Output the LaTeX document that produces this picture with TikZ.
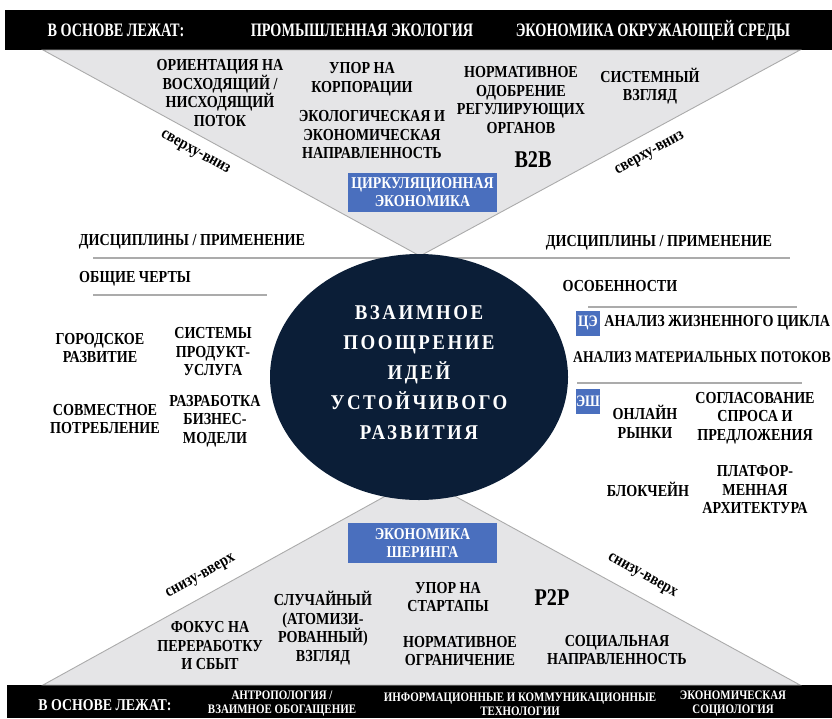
\documentclass[tikz,border=0pt]{standalone}
\usepackage{fontspec}
\setmainfont{Liberation Serif}[FakeStretch=0.84]
\newfontfamily\barfont{Liberation Serif}[FakeStretch=0.75]
\newfontfamily\spacedfont{Liberation Serif}[FakeStretch=0.9, LetterSpace=12]
\usetikzlibrary{shapes, positioning}
\definecolor{navy}{HTML}{0B1E37}
\definecolor{boxblue}{HTML}{4A6FBE}
\definecolor{wedge}{HTML}{E5E5E7}
\definecolor{rulegray}{HTML}{ABABAB}
\tikzstyle{label} = [font=\bfseries\fontsize{16.8}{18.5}\selectfont, align=center, inner sep=0pt]
\tikzstyle{slope} = [font=\bfseries\fontsize{17}{18}\selectfont, inner sep=0pt]
\tikzstyle{bartext} = [font=\barfont\bfseries\fontsize{19}{20}\selectfont, text=white, inner sep=0pt]
\tikzstyle{barsmall} = [font=\bfseries\fontsize{13}{14}\selectfont, text=white, align=center, inner sep=0pt]
\tikzstyle{bluebox} = [rectangle, fill=boxblue, text=white, align=center, minimum width=149pt, minimum height=39pt, inner sep=0pt, font=\bfseries\fontsize{16.5}{18.5}\selectfont]
\tikzstyle{tag} = [rectangle, fill=boxblue, text=white, minimum width=24pt, minimum height=25pt, inner sep=0pt, font=\bfseries\fontsize{16}{16}\selectfont]
\tikzstyle{rule} = [draw=rulegray, line width=1.4pt]
\tikzstyle{edge} = [draw=rulegray, line width=0.9pt]

\begin{document}
\begin{tikzpicture}[x=1pt, y=-1pt, node distance=18pt]
    \useasboundingbox (0,0) rectangle (832,718);

    % bars and wedges
    \fill [black] (5,10) rectangle (832,50);
    \fill [black] (7,685) rectangle (832,718);
    \path [edge, fill=wedge] (43,50) -- (800,50) -- (420,256) -- cycle;
    \path [edge, fill=wedge] (43,685) -- (420,477) -- (800,685) -- cycle;

    % rules
    \path [rule] (93,258) -- (790,258);
    \path [rule] (93,295) -- (267,295);
    \path [rule] (588,307) -- (797,307);
    \path [rule] (577,383) -- (802,383);

    % centre
    \node [ellipse, fill=navy, minimum width=298pt, minimum height=246pt, inner sep=0pt] (core) at (419,377) {};
    \node [text=white, align=center, font=\spacedfont\bfseries\fontsize{21}{30}\selectfont] (core_text) at (419,373)
        {ВЗАИМНОЕ\\ПООЩРЕНИЕ\\ИДЕЙ\\УСТОЙЧИВОГО\\РАЗВИТИЯ};

    % top bar
    \node [bartext] (top_base) at (116,30) {В ОСНОВЕ ЛЕЖАТ:};
    \node [bartext] (top_ecology) at (362,30) {ПРОМЫШЛЕННАЯ ЭКОЛОГИЯ};
    \node [bartext] (top_environment) at (653,30) {ЭКОНОМИКА ОКРУЖАЮЩЕЙ СРЕДЫ};

    % circular economy
    \node [label] (updown) at (220,93) {ОРИЕНТАЦИЯ НА\\ВОСХОДЯЩИЙ /\\НИСХОДЯЩИЙ\\ПОТОК};
    \node [label] (corporations) at (362,79) {УПОР НА\\КОРПОРАЦИИ};
    \node [label] (eco_focus) at (372,135) {ЭКОЛОГИЧЕСКАЯ И\\ЭКОНОМИЧЕСКАЯ\\НАПРАВЛЕННОСТЬ};
    \node [label] (approval) at (521,100) {НОРМАТИВНОЕ\\ОДОБРЕНИЕ\\РЕГУЛИРУЮЩИХ\\ОРГАНОВ};
    \node [label] (system_view) at (650,86) {СИСТЕМНЫЙ\\ВЗГЛЯД};
    \node [label, font=\bfseries\fontsize{24}{24}\selectfont] (b2b) at (533,160) {B2B};
    \node [bluebox] (circular) at (422.5,192) {ЦИРКУЛЯЦИОННАЯ\\ЭКОНОМИКА};
    \node [slope, rotate=-29] (topdown_left) at (195,153) {сверху-вниз};
    \node [slope, rotate=29] (topdown_right) at (650,154) {сверху-вниз};

    % left side
    \node [label] (disc_left) at (192,242) {ДИСЦИПЛИНЫ / ПРИМЕНЕНИЕ};
    \node [label] (common) at (135,279) {ОБЩИЕ ЧЕРТЫ};
    \node [label] (urban) at (100,348) {ГОРОДСКОЕ\\РАЗВИТИЕ};
    \node [label] (pss) at (213,352) {СИСТЕМЫ\\ПРОДУКТ-\\УСЛУГА};
    \node [label] (collab) at (105,419) {СОВМЕСТНОЕ\\ПОТРЕБЛЕНИЕ};
    \node [label] (business) at (215,421) {РАЗРАБОТКА\\БИЗНЕС-\\МОДЕЛИ};

    % right side
    \node [label] (disc_right) at (659,243) {ДИСЦИПЛИНЫ / ПРИМЕНЕНИЕ};
    \node [label] (features) at (620,286) {ОСОБЕННОСТИ};
    \node [tag] (ce) at (588,323) {ЦЭ};
    \node [label, right=4pt of ce] (lca) {АНАЛИЗ ЖИЗНЕННОГО ЦИКЛА};
    \node [label, font=\bfseries\fontsize{16.3}{18}\selectfont] (mfa) at (702,357) {АНАЛИЗ МАТЕРИАЛЬНЫХ ПОТОКОВ};
    \node [tag] (se) at (588,401) {ЭШ};
    \node [label] (online) at (645,422) {ОНЛАЙН\\РЫНКИ};
    \node [label] (matching) at (755,418) {СОГЛАСОВАНИЕ\\СПРОСА И\\ПРЕДЛОЖЕНИЯ};
    \node [label] (blockchain) at (648,489) {БЛОКЧЕЙН};
    \node [label] (platform) at (755,490) {ПЛАТФОР-\\МЕННАЯ\\АРХИТЕКТУРА};

    % sharing economy
    \node [bluebox, minimum height=40pt] (sharing) at (422.5,543) {ЭКОНОМИКА\\ШЕРИНГА};
    \node [slope, rotate=29] (bottomup_left) at (201,577) {снизу-вверх};
    \node [slope, rotate=-29] (bottomup_right) at (642,576) {снизу-вверх};
    \node [label] (recycling) at (210,646) {ФОКУС НА\\ПЕРЕРАБОТКУ\\И СБЫТ};
    \node [label] (random_view) at (323,628) {СЛУЧАЙНЫЙ\\(АТОМИЗИ-\\РОВАННЫЙ)\\ВЗГЛЯД};
    \node [label] (startups) at (448,597) {УПОР НА\\СТАРТАПЫ};
    \node [label] (restriction) at (460,651) {НОРМАТИВНОЕ\\ОГРАНИЧЕНИЕ};
    \node [label, font=\bfseries\fontsize{24}{24}\selectfont] (p2p) at (552,598) {P2P};
    \node [label] (social) at (617,650) {СОЦИАЛЬНАЯ\\НАПРАВЛЕННОСТЬ};

    % bottom bar
    \node [bartext, font=\bfseries\fontsize{16.5}{18}\selectfont] (bottom_base) at (105,705) {В ОСНОВЕ ЛЕЖАТ:};
    \node [barsmall] (anthropology) at (282,704) {АНТРОПОЛОГИЯ /\\ВЗАИМНОЕ ОБОГАЩЕНИЕ};
    \node [barsmall] (ict) at (520,704) {ИНФОРМАЦИОННЫЕ И КОММУНИКАЦИОННЫЕ\\ТЕХНОЛОГИИ};
    \node [barsmall] (sociology) at (733,704) {ЭКОНОМИЧЕСКАЯ\\СОЦИОЛОГИЯ};
\end{tikzpicture}
\end{document}
